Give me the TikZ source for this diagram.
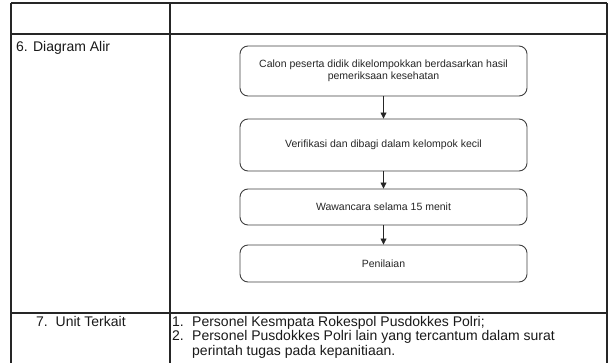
\documentclass[tikz,border=0pt]{standalone}
\usepackage{fontspec}
\setmainfont{Liberation Sans}
\usetikzlibrary{arrows.meta}
\tikzset{
  grid/.style={line width=1.1pt, draw=black!85},
  flowbox/.style={draw=black!75, line width=0.9pt, rounded corners=8pt, fill=white,
    minimum width=287pt, inner sep=0pt, align=center, text=black!85, font=\fontsize{10.5}{11.5}\selectfont},
  flowarrow/.style={draw=black!85, line width=0.8pt, -{Triangle[width=6pt,length=6pt]}},
  celltext/.style={anchor=base west, inner sep=0pt, text=black!90, font=\fontsize{14}{15}\selectfont}
}
\begin{document}
\begin{tikzpicture}[x=1pt,y=-1pt]
\useasboundingbox (0,0) rectangle (612,363);
% table
\draw[grid] (11,3) -- (607,3);
\draw[grid] (11,34) -- (607,34);
\draw[grid] (11,313) -- (607,313);
\draw[grid] (11,3) -- (11,370);
\draw[grid] (170,3) -- (170,370);
\draw[grid] (607,3) -- (607,370);
% cell texts
\node[celltext] (lbl6) at (16,52) {6. Diagram Alir};
\node[celltext] (lbl7) at (36,326) {7.\ \ Unit Terkait};
\node[celltext] (n1) at (172,326) {1.};
\node[celltext] (t1) at (192,326) {Personel Kesmpata Rokespol Pusdokkes Polri;};
\node[celltext] (n2) at (172,340.5) {2.};
\node[celltext] (t2) at (192,340.5) {Personel Pusdokkes Polri lain yang tercantum dalam surat};
\node[celltext] (t3) at (192,355) {perintah tugas pada kepanitiaan.};
% flow
\node[flowbox, minimum height=50pt] (b1) at (383.5,71) {Calon peserta didik dikelompokkan berdasarkan hasil\\pemeriksaan kesehatan};
\node[flowbox, minimum height=52pt] (b2) at (383.5,145) {Verifikasi dan dibagi dalam kelompok kecil};
\node[flowbox, minimum height=36pt] (b3) at (383.5,207) {Wawancara selama 15 menit};
\node[flowbox, minimum height=37pt] (b4) at (383.5,263.5) {Penilaian};
\draw[flowarrow] (b1) -- (b2);
\draw[flowarrow] (b2) -- (b3);
\draw[flowarrow] (b3) -- (b4);
\end{tikzpicture}
\end{document}
